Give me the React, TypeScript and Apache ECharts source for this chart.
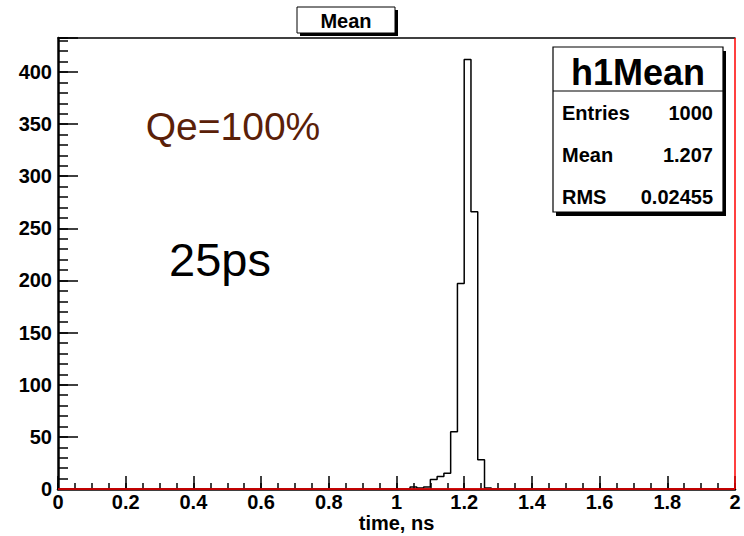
import React, { useEffect, useRef } from "react";
import * as echarts from "echarts";

// Histogram definition: 100 bins over [0, 2] ns
const histTitle = "Mean";
const histName = "h1Mean";
const xMin = 0;
const xMax = 2;
const nBins = 100;
// counts of the non-empty bins, starting at bin index 52 (low edge 1.04 ns)
const firstFilledBin = 52;
const filledCounts = [2, 1, 2, 9, 12, 15, 55, 197, 412, 266, 28, 1];

// statistics box
const statsLabels = ["Entries", "Mean", "RMS"];
const statsValues = ["1000", "1.207", "0.02455"];

// annotations
const effLabel = "Qe=100%";
const resLabel = "25ps";
const xTitle = "time, ns";

const FONT = '"Liberation Sans", Arial, Helvetica, sans-serif';

function buildBins(): number[] {
  const bins = new Array(nBins).fill(0);
  filledCounts.forEach((c, i) => {
    bins[firstFilledBin + i] = c;
  });
  return bins;
}

function buildOption(): echarts.EChartsOption {
  const bins = buildBins();
  const w = (xMax - xMin) / nBins;
  const steps: number[][] = bins.map((c, i) => [xMin + i * w, c]);
  steps.push([xMax, bins[nBins - 1]]);
  const yMax = Math.max(...bins) * 1.05;

  const labelFont = { fontFamily: FONT, fontWeight: "bold" as const, fontSize: 20, color: "#000" };

  const box = { left: 553, top: 47, width: 170, height: 165 };
  const rowY = [113, 155, 197];

  return {
    animation: false,
    backgroundColor: "#fff",
    grid: {
      left: 58,
      right: 9,
      top: 38,
      bottom: 47,
      containLabel: false,
      outerBoundsMode: "none",
      show: false,
    } as any,
    xAxis: [
      {
        type: "value",
        min: xMin,
        max: xMax,
        interval: 0.2,
        position: "bottom",
        axisLine: { show: true, onZero: false, lineStyle: { color: "#000", width: 2.5 } },
        axisTick: { show: true, inside: true, length: 13, lineStyle: { color: "#000", width: 1.5 } },
        axisLabel: { ...labelFont, margin: 4, lineHeight: 18 },
        splitLine: { show: false },
        name: xTitle,
        nameLocation: "middle",
        nameGap: 25,
        nameMoveOverlap: false,
        nameTextStyle: { fontFamily: FONT, fontWeight: "bold", fontSize: 20, lineHeight: 18, color: "#000" },
      } as any,
      {
        type: "value",
        min: xMin,
        max: xMax,
        interval: 0.05,
        position: "bottom",
        axisLine: { show: false },
        axisTick: { show: true, inside: true, length: 6, lineStyle: { color: "#000", width: 1.5 } },
        axisLabel: { show: false },
        splitLine: { show: false },
      },
      {
        type: "value",
        min: xMin,
        max: xMax,
        position: "top",
        axisLine: { show: true, onZero: false, lineStyle: { color: "#000", width: 1.5 } },
        axisTick: { show: false },
        axisLabel: { show: false },
        splitLine: { show: false },
      },
    ],
    yAxis: [
      {
        type: "value",
        min: 0,
        max: yMax,
        interval: 50,
        position: "left",
        axisLine: { show: true, onZero: false, lineStyle: { color: "#000", width: 2.5 } },
        axisTick: { show: true, inside: true, length: 20, lineStyle: { color: "#000", width: 1.5 } },
        axisLabel: {
          ...labelFont,
          margin: 6,
          formatter: (v: number) => (Math.abs(v % 50) < 1e-6 ? String(v) : ""),
        },
        splitLine: { show: false },
      },
      {
        type: "value",
        min: 0,
        max: yMax,
        interval: 10,
        position: "left",
        axisLine: { show: false },
        axisTick: { show: true, inside: true, length: 10, lineStyle: { color: "#000", width: 1.5 } },
        axisLabel: { show: false },
        splitLine: { show: false },
      },
    ],
    series: [
      {
        name: histName,
        type: "line",
        xAxisIndex: 0,
        yAxisIndex: 0,
        step: "end",
        data: steps,
        symbol: "none",
        lineStyle: { color: "#000", width: 1.5 },
        silent: true,
        z: 5,
        markLine: {
          silent: true,
          symbol: "none",
          z: 6,
          label: { show: false },
          lineStyle: { color: "#ff0000", width: 1.5, type: "solid", opacity: 1 },
          data: [{ yAxis: 0 }, { xAxis: xMax }],
        },
      },
    ],
    graphic: [
      // title box with shadow
      { type: "rect", shape: { x: 300, y: 10, width: 98, height: 26 }, style: { fill: "#000" }, z: 10 },
      {
        type: "rect",
        shape: { x: 297, y: 7, width: 98, height: 26 },
        style: { fill: "#fff", stroke: "#000", lineWidth: 1 },
        z: 11,
      },
      {
        type: "text",
        x: 346,
        y: 21,
        z: 12,
        style: {
          text: histTitle,
          font: `bold 20px ${FONT}`,
          fill: "#000",
          align: "center",
          verticalAlign: "middle",
          textAlign: "center",
          textVerticalAlign: "middle",
        } as any,
      },
      // statistics box with shadow
      {
        type: "rect",
        shape: { x: box.left + 3, y: box.top + 4, width: box.width, height: box.height },
        style: { fill: "#000" },
        z: 10,
      },
      {
        type: "rect",
        shape: { x: box.left, y: box.top, width: box.width, height: box.height },
        style: { fill: "#fff", stroke: "#000", lineWidth: 1.2 },
        z: 11,
      },
      {
        type: "line",
        shape: { x1: box.left, y1: 91, x2: box.left + box.width, y2: 91 },
        style: { stroke: "#000", lineWidth: 1.2 },
        z: 12,
      },
      {
        type: "text",
        x: box.left + box.width / 2,
        y: 72,
        z: 12,
        style: {
          text: histName,
          font: `bold 36px ${FONT}`,
          fill: "#000",
          align: "center",
          verticalAlign: "middle",
          textAlign: "center",
          textVerticalAlign: "middle",
        } as any,
      },
      ...statsLabels.map((t, i) => ({
        type: "text" as const,
        x: 562,
        y: rowY[i],
        z: 12,
        style: {
          text: t,
          font: `bold 20px ${FONT}`,
          fill: "#000",
          align: "left",
          verticalAlign: "middle",
          textAlign: "left",
          textVerticalAlign: "middle",
        } as any,
      })),
      ...statsValues.map((t, i) => ({
        type: "text" as const,
        x: 713,
        y: rowY[i],
        z: 12,
        style: {
          text: t,
          font: `bold 20px ${FONT}`,
          fill: "#000",
          align: "right",
          verticalAlign: "middle",
          textAlign: "right",
          textVerticalAlign: "middle",
        } as any,
      })),
      // annotations
      {
        type: "text",
        x: 233,
        y: 126,
        z: 12,
        style: {
          text: effLabel,
          font: `39px ${FONT}`,
          fill: "#5a2008",
          align: "center",
          verticalAlign: "middle",
          textAlign: "center",
          textVerticalAlign: "middle",
        } as any,
      },
      {
        type: "text",
        x: 220,
        y: 259,
        z: 12,
        style: {
          text: resLabel,
          font: `47px ${FONT}`,
          fill: "#000",
          align: "center",
          verticalAlign: "middle",
          textAlign: "center",
          textVerticalAlign: "middle",
        } as any,
      },
    ],
  };
}

export default function App() {
  const ref = useRef<HTMLDivElement>(null);

  useEffect(() => {
    if (!ref.current) return;
    const chart = echarts.init(ref.current, undefined, { renderer: "svg" });
    chart.setOption(buildOption());
    return () => chart.dispose();
  }, []);

  return (
    <div
      ref={ref}
      style={{ position: "absolute", left: 0, top: 0, width: 744, height: 536, background: "#fff" }}
    />
  );
}
